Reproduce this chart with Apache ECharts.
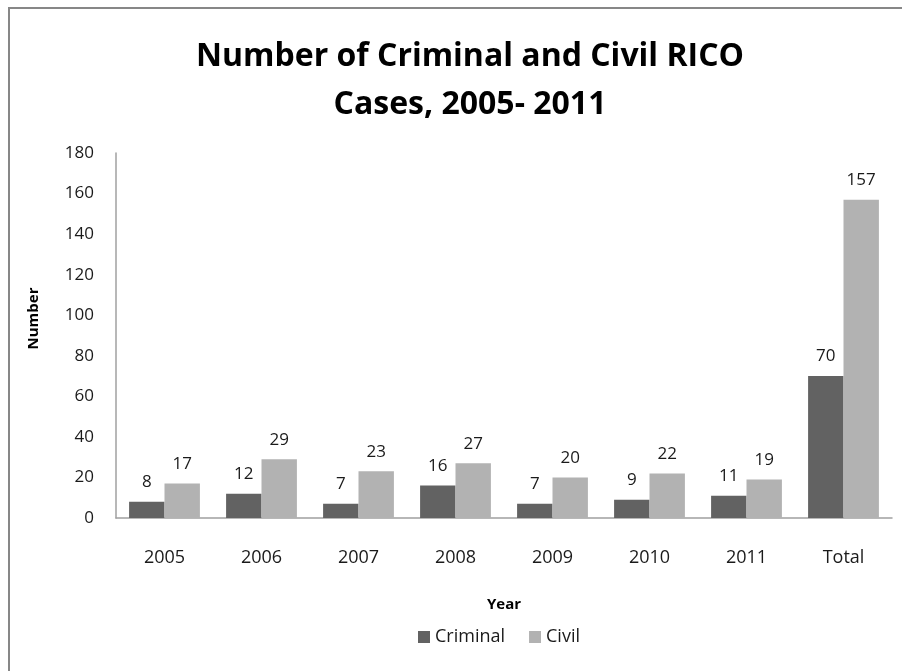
<!DOCTYPE html>
<html>
<head>
<meta charset="utf-8">
<script src="https://cdn.jsdelivr.net/npm/echarts@6/dist/echarts.min.js"></script>
<style>
  html, body { margin: 0; padding: 0; background: #fff; }
  #chart { width: 902px; height: 671px; }
</style>
</head>
<body>
<div id="chart"></div>
<script>
// RICO case counts by year, plus the overall total
const categories = ['2005', '2006', '2007', '2008', '2009', '2010', '2011', 'Total'];
const criminal = [8, 12, 7, 16, 7, 9, 11, 70];
const civil = [17, 29, 23, 27, 20, 22, 19, 157];
const yTicks = { min: 0, max: 180, interval: 20 };

const FONT = '"Open Sans"';
const TEXT = '#1a1a1a';

const chart = echarts.init(document.getElementById('chart'), null, { renderer: 'canvas' });

const valueLabel = {
  show: true,
  position: 'top',
  distance: 11,
  fontFamily: FONT,
  fontSize: 17,
  color: TEXT
};

chart.setOption({
  animation: false,
  backgroundColor: '#ffffff',
  title: {
    text: 'Number of Criminal and Civil RICO\nCases, 2005- 2011',
    left: 465,
    textAlign: 'center',
    top: 28,
    textStyle: {
      fontFamily: FONT,
      fontWeight: 'bold',
      fontSize: 32,
      lineHeight: 48,
      color: '#000'
    }
  },
  graphic: [
    // frame edges along the top and left side
    { type: 'line', shape: { x1: 8, y1: 8, x2: 902, y2: 8 }, style: { stroke: '#878787', lineWidth: 2 } },
    { type: 'line', shape: { x1: 9, y1: 8, x2: 9, y2: 671 }, style: { stroke: '#878787', lineWidth: 2 } }
  ],
  legend: {
    left: 413,
    top: 623,
    itemWidth: 12,
    itemHeight: 12,
    itemGap: 24,
    icon: 'rect',
    textStyle: { fontFamily: FONT, fontSize: 18, color: TEXT },
    data: ['Criminal', 'Civil']
  },
  grid: { left: 116, right: 10, top: 153, bottom: 153, containLabel: false },
  xAxis: {
    type: 'category',
    data: categories,
    name: 'Year',
    nameLocation: 'middle',
    nameGap: 79,
    nameTextStyle: { fontFamily: FONT, fontWeight: 'bold', fontSize: 15, color: '#000' },
    axisLine: { lineStyle: { color: '#a0a0a0', width: 1.5 } },
    axisTick: { show: false },
    axisLabel: { fontFamily: FONT, fontSize: 18, color: TEXT, margin: 31 }
  },
  yAxis: {
    type: 'value',
    min: yTicks.min,
    max: yTicks.max,
    interval: yTicks.interval,
    name: 'Number',
    nameLocation: 'middle',
    nameGap: 75,
    nameRotate: 90,
    nameTextStyle: { fontFamily: FONT, fontWeight: 'bold', fontSize: 15, color: '#000', padding: [0, 0, 0, 34] },
    axisLine: { show: true, lineStyle: { color: '#a0a0a0', width: 1.5 } },
    axisTick: { show: false },
    splitLine: { show: false },
    axisLabel: { fontFamily: FONT, fontSize: 17, color: TEXT, margin: 22 }
  },
  series: [
    {
      name: 'Criminal',
      type: 'bar',
      data: criminal,
      barGap: '0%',
      barCategoryGap: '27%',
      itemStyle: { color: '#626262' },
      label: valueLabel
    },
    {
      name: 'Civil',
      type: 'bar',
      data: civil,
      barGap: '0%',
      barCategoryGap: '27%',
      itemStyle: { color: '#b2b2b2' },
      label: valueLabel
    }
  ]
});
</script>
</body>
</html>
